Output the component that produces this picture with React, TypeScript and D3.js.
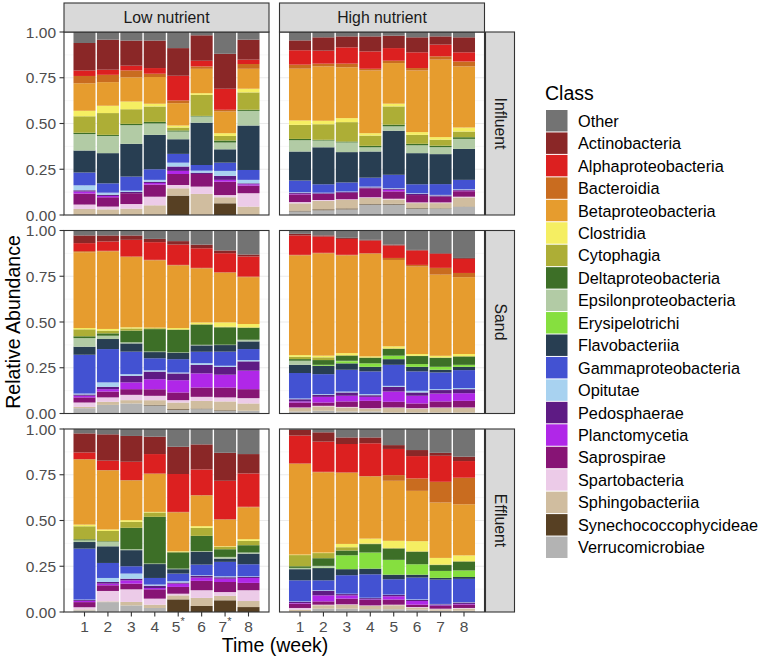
import React from "react";
import * as d3 from "d3";

const classes = [
  "Other", "Actinobacteria", "Alphaproteobacteria", "Bacteroidia", "Betaproteobacteria",
  "Clostridia", "Cytophagia", "Deltaproteobacteria", "Epsilonproteobacteria", "Erysipelotrichi",
  "Flavobacteriia", "Gammaproteobacteria", "Opitutae", "Pedosphaerae", "Planctomycetia",
  "Saprospirae", "Spartobacteria", "Sphingobacteriia", "Synechococcophycideae", "Verrucomicrobiae",
];
const classColors = [
  "#737373", "#8a2727", "#dc2020", "#c96c1f", "#e69c2e",
  "#f5ee62", "#adae36", "#3d6f27", "#b2cba5", "#86df3f",
  "#283e52", "#4352d2", "#a8d2f0", "#5e1b84", "#b027e8",
  "#871475", "#eccbe8", "#d0bd9f", "#574023", "#b3b3b3",
];

const nutrients = ["Low nutrient", "High nutrient"];
const sites = ["Influent", "Sand", "Effluent"];
const weeks = ["1", "2", "3", "4", "5", "6", "7", "8"];
const weekLabelsLow = ["1", "2", "3", "4", "5*", "6", "7*", "8"];
const weekLabelsHigh = ["1", "2", "3", "4", "5", "6", "7", "8"];
const yTicks = [0, 0.25, 0.5, 0.75, 1];
const yTickLabels = ["0.00", "0.25", "0.50", "0.75", "1.00"];

// Panel order: Influent-Low, Influent-High, Sand-Low, Sand-High, Effluent-Low, Effluent-High
// values in percent, weeks 1..8
const other = [
  [6, 4.2, 4.7, 4.7, 8.8, 1.8, 11.9, 4.2],
  [4.6, 2.9, 2.4, 2.4, 2, 2.9, 2.4, 2.9],
  [2.7, 2.7, 2.7, 4.6, 5.8, 7.7, 10.9, 13.1],
  [1.8, 2.7, 4, 5.1, 7.7, 10.6, 12.4, 15],
  [2.4, 2.9, 3.8, 4.2, 9.7, 8.4, 13, 13.7],
  [0.5, 1.8, 4.6, 4.6, 8.8, 11.5, 13, 15.1],
];
const actinobacteria = [
  [15, 16.4, 13.7, 15, 15.1, 13.9, 19.1, 10.9],
  [5.4, 7.3, 6, 8.2, 6.8, 8.2, 4.5, 8.2],
  [4.2, 3.3, 2.4, 1.8, 1.9, 2, 1.5, 1.1],
  [0.9, 0.6, 0.6, 0.4, 0.5, 0.3, 0.4, 0.5],
  [10.4, 14.4, 14.1, 9.5, 14.9, 13.7, 15.3, 10.6],
  [3.1, 5.1, 3.6, 3.2, 2.1, 3.3, 1.6, 2.4],
];
const alphaproteobacteria = [
  [3, 2.8, 2.6, 3.1, 13.5, 3.1, 11.5, 2.4],
  [7.9, 7.1, 8.9, 9.5, 6.9, 8.6, 6.4, 5],
  [4.4, 5.1, 9.1, 9.7, 11.1, 10.7, 10.4, 11],
  [10.6, 8.9, 8.7, 6.9, 6.8, 7.9, 7.6, 7.7],
  [3.6, 5.1, 10, 10.6, 20.7, 14, 21, 18.2],
  [15.2, 16.5, 15.5, 17.9, 14.3, 12.2, 14.2, 9.1],
];
const bacteroidia = [
  [4, 4, 3.8, 1.8, 1.5, 1.3, 0.9, 2.6],
  [2.2, 1.5, 2, 0.9, 1.3, 1.3, 1.8, 2.7],
  [0.6, 0.3, 0.3, 0.3, 0.3, 0.3, 0.3, 0.3],
  [0.3, 0.3, 0.3, 0.3, 1.1, 0.9, 3.7, 2.3],
  [0.3, 0.3, 0.3, 0.3, 0.3, 0.3, 0.3, 0.3],
  [0.3, 0.3, 0.3, 0.3, 3.1, 6.8, 11.3, 14.5],
];
const betaproteobacteria = [
  [15, 12.9, 13.2, 14.6, 12.2, 13.3, 11.9, 10.9],
  [28.4, 29.7, 27.8, 34.3, 22.2, 33.7, 42.4, 33.4],
  [41.4, 42.4, 38.4, 36.9, 34.2, 29.5, 27.1, 25.6],
  [54.4, 55.9, 53.4, 56.1, 47.2, 47.8, 44.3, 42],
  [35.5, 32.2, 21.6, 20.7, 21.2, 16.7, 14.5, 17.4],
  [49.5, 43.8, 38.8, 33.9, 32.8, 27.5, 30.2, 27.9],
];
const clostridia = [
  [3, 4, 4.2, 1.5, 1.1, 0.9, 1.5, 2],
  [2.4, 1.9, 2.2, 1.3, 1.5, 1.5, 1.4, 2.2],
  [0.7, 0.9, 0.6, 0.3, 0.7, 0.9, 2.4, 1.8],
  [0.9, 0.9, 1.1, 0.5, 1.1, 0.9, 0.9, 1.1],
  [0.9, 0.8, 0.9, 0.3, 0.3, 0.9, 0.3, 0.9],
  [0.3, 0.3, 1.8, 2.7, 3.9, 5.5, 3.6, 3.1],
];
const cytophagia = [
  [9, 11.9, 8, 8.4, 1.6, 11.5, 2.5, 9.5],
  [7.7, 8.5, 10.6, 5.6, 10, 4.9, 3.3, 3.1],
  [3.8, 1.5, 1.2, 0.5, 0.3, 0.3, 0.3, 0.3],
  [1.3, 1.5, 0.3, 0.3, 0.3, 0.2, 0.2, 0.3],
  [7.1, 5.6, 3.3, 2.4, 0.3, 4.4, 1.3, 2.4],
  [6.1, 2.8, 1.8, 0.3, 0.3, 0.3, 0.3, 0.3],
];
const deltaproteobacteria = [
  [0.7, 0.6, 0.7, 0.9, 0.6, 0.3, 1.1, 0.6],
  [0.7, 0.4, 0.5, 0.8, 0.9, 0.8, 0.8, 0.9],
  [1, 1.3, 6.4, 12.3, 12.3, 11, 9.5, 6.5],
  [0.9, 2.6, 2.8, 3, 3.7, 4.4, 4.9, 4.5],
  [0.6, 0.3, 11.7, 25.5, 8.9, 8.4, 4.2, 4],
  [0.9, 4.2, 2.6, 4.6, 6.2, 6.8, 3.2, 4.8],
];
const epsilonproteobacteria = [
  [9, 9.4, 10.2, 6.2, 4.2, 3.4, 3.7, 8],
  [6.2, 3.7, 5.3, 2.3, 2.4, 4.3, 3.8, 5.5],
  [4.7, 1.8, 0.6, 0.3, 0.2, 0.3, 0.2, 0.9],
  [2.2, 0, 0.2, 0, 0, 0, 0, 0],
  [0.9, 2.5, 0.5, 0.3, 0.3, 0.3, 0.9, 0.6],
  [0.7, 0.9, 0, 0, 0, 0, 0, 0],
];
const erysipelotrichi = [
  [0, 0, 0, 0, 0, 0, 0, 0],
  [0, 0, 0, 0, 0, 0, 0, 0],
  [0, 0, 0, 0, 0, 0, 0, 0],
  [0, 0.5, 1.2, 1.9, 1.9, 1.5, 1.6, 1.1],
  [0, 0, 0, 0, 0, 0, 0, 0],
  [0, 0.3, 7.6, 8.8, 8.1, 5.7, 3.8, 3.6],
];
const flavobacteriia = [
  [12, 16.5, 17.9, 18.8, 8, 23.1, 7.3, 24.3],
  [15.9, 20.2, 16.6, 14.3, 24.1, 17, 16.4, 16.9],
  [4.4, 5.5, 4.5, 3.4, 3.5, 3.5, 3.6, 4.2],
  [4.5, 4.6, 3.5, 2.5, 3.1, 2.5, 1.5, 1.8],
  [3.6, 9.1, 8.8, 7.6, 2.4, 7, 1.8, 5.8],
  [6.1, 6.7, 3.3, 3.1, 2.5, 1.6, 0.9, 1],
];
const gammaproteobacteria = [
  [7, 5.1, 7.7, 5.8, 4.8, 3.1, 4.5, 5.4],
  [6.4, 4.6, 4.9, 4.9, 7.3, 4.9, 5.9, 5.1],
  [21.2, 18.2, 12.3, 6.6, 7.3, 6.2, 7.7, 6],
  [13.9, 10.9, 11.9, 12.4, 11.5, 10.6, 9.1, 9.8],
  [27.8, 8.2, 4, 3.6, 4.2, 5.8, 7.9, 6.6],
  [11.5, 5.4, 10.1, 12.8, 8.4, 11.9, 13.3, 12.7],
];
const opitutae = [
  [2.7, 1.1, 0.7, 1, 2.1, 1.1, 2.7, 1.9],
  [0.3, 0.3, 0.2, 0.4, 0.3, 0.3, 0.3, 0.3],
  [0.5, 2.4, 0.9, 0.7, 0.5, 0.9, 0.6, 0.7],
  [0.4, 0.4, 0.5, 0.6, 0.5, 0.9, 0.5, 0.6],
  [0.2, 2.2, 2.8, 0.6, 0.7, 0.3, 0.5, 0.3],
  [0.2, 0.3, 0.2, 0.2, 0.2, 0.3, 0.2, 0.2],
];
const pedosphaerae = [
  [0.7, 0.7, 0.7, 0.7, 2.4, 0.7, 2.2, 0.5],
  [0.6, 0.4, 0.5, 0.5, 0.6, 0.7, 0.6, 0.5],
  [0.7, 1.3, 3.6, 4.2, 3.7, 4.7, 4.3, 5.1],
  [1.2, 1.1, 1.8, 0.9, 2.6, 1.8, 1.9, 2.2],
  [0.5, 0.9, 0.9, 1.3, 0.6, 1, 0.8, 0.6],
  [0.7, 2.5, 0.7, 0.7, 0.7, 0.6, 0.6, 0.8],
];
const planctomycetia = [
  [1.1, 0.7, 0, 0.9, 1.7, 0, 1, 0.7],
  [0.3, 0, 0, 0, 0.9, 0, 0, 0.3],
  [0.9, 1.3, 3.7, 5.5, 6.7, 7.7, 7, 10.1],
  [0.6, 3.1, 3.1, 2.2, 5.6, 4.2, 4.3, 4.2],
  [0.7, 0.9, 1.8, 0.7, 1.8, 1.8, 1.8, 2.7],
  [0.3, 3.3, 1.8, 0.3, 1.8, 2, 0.3, 0.3],
];
const saprospirae = [
  [6, 5.1, 5.9, 6.6, 6, 6.9, 7.3, 4.2],
  [4.2, 3.3, 3.6, 4.9, 4, 4, 3.2, 3],
  [2.8, 3.2, 3.1, 3.6, 4.2, 5.1, 5.4, 4.9],
  [2.7, 1.8, 3, 4, 3.1, 2.6, 3.3, 3.6],
  [2.8, 3.1, 3.1, 5.1, 3.7, 5.1, 5.5, 4],
  [2.4, 1.8, 3.1, 3, 2.8, 1.3, 1.5, 1.9],
];
const spartobacteria = [
  [2.4, 1.5, 2.5, 4.7, 1.8, 4, 1.2, 7.3],
  [0.7, 0.5, 0.4, 0.4, 0.4, 0.4, 0.4, 0.4],
  [2.4, 2.4, 2.9, 2.4, 1.3, 2.2, 2.2, 2.9],
  [0.3, 0.3, 0.3, 0.3, 0.3, 0.3, 0.3, 0.3],
  [1.2, 5.7, 6.9, 3.3, 0.9, 4.2, 2.1, 5.9],
  [0.9, 0.3, 0.3, 0.3, 0.3, 0.3, 0.3, 0.3],
];
const sphingobacteriia = [
  [3.3, 3.1, 3.5, 5.3, 4, 11.5, 3.3, 4.6],
  [4, 4.6, 4.6, 3.3, 2.4, 2.7, 2.8, 5],
  [0.7, 1.7, 1.8, 2.6, 3.6, 4.2, 4.8, 4],
  [1.9, 2.4, 2.2, 1.5, 2.5, 2.1, 2.5, 2.5],
  [0.5, 0.4, 1.9, 1.8, 2.2, 4.4, 2.4, 3.3],
  [0.9, 1.9, 2.1, 1.8, 2.2, 1.1, 0.8, 1.2],
];
const synechococcophycideae = [
  [0, 0, 0, 0, 10.6, 0, 6.4, 0],
  [0.4, 0.5, 0.5, 0.3, 0.4, 0.3, 0.2, 0.2],
  [0, 0, 0, 0.3, 0.4, 0.3, 0.3, 0],
  [0, 0, 0, 0, 0, 0, 0, 0],
  [0, 0, 0, 0, 6.9, 3.3, 6.4, 2.7],
  [0, 0, 0, 0, 0, 0, 0, 0],
];
const verrucomicrobiae = [
  [0, 0, 0, 0, 0, 0, 0, 0],
  [2, 2.6, 3.1, 5.7, 5.7, 3.5, 3.5, 4.4],
  [2.9, 4.7, 5.5, 4.4, 2, 2.4, 1.5, 1.5],
  [1.1, 1.5, 1.1, 1.1, 0.5, 0.5, 0.5, 0.5],
  [0.9, 5.4, 3.6, 2.2, 0, 0, 0, 0],
  [0.4, 1.8, 1.8, 1.5, 1.5, 1.3, 0.7, 0.7],
];

const classValues = [
  other, actinobacteria, alphaproteobacteria, bacteroidia, betaproteobacteria,
  clostridia, cytophagia, deltaproteobacteria, epsilonproteobacteria, erysipelotrichi,
  flavobacteriia, gammaproteobacteria, opitutae, pedosphaerae, planctomycetia,
  saprospirae, spartobacteria, sphingobacteriia, synechococcophycideae, verrucomicrobiae,
];

const FONT = "'Liberation Sans', Arial, Helvetica, sans-serif";
const colX = [64, 279.5];
const rowY = [32, 230.5, 429];
const panelW = 205;
const panelH = 183;

const colorScale = d3.scaleOrdinal<string, string>().domain(classes).range(classColors);
const xScale = d3.scaleBand<string>().domain(weeks).range([0, panelW]).paddingInner(0.06).paddingOuter(0.405);
const yScale = d3.scaleLinear().domain([0, 1]).range([panelH, 0]);

// Stack bottom-to-top: last class at the bottom
const stackKeys = classes.slice().reverse();
const stacker = d3.stack<any>().keys(stackKeys).offset(d3.stackOffsetExpand);

function panelSeries(p: number) {
  const rows = weeks.map((w, i) => {
    const r: any = { week: w };
    classes.forEach((c, ci) => { r[c] = classValues[ci][p][i]; });
    return r;
  });
  return stacker(rows);
}

function TickLabel({ label, x, y }: { label: string; x: number; y: number }) {
  const star = label.endsWith("*");
  const base = star ? label.slice(0, -1) : label;
  return (
    <text x={x} y={y} textAnchor="middle" dominantBaseline="central" fontSize={15.5} fill="#4D4D4D" fontFamily={FONT}>
      {base}
      {star && <tspan dy={-5} fontSize={11}>*</tspan>}
    </text>
  );
}

function Panel({ p, row, col }: { p: number; row: number; col: number }) {
  const series = panelSeries(p);
  const x0 = colX[col];
  const y0 = rowY[row];
  const minor = [0.125, 0.375, 0.625, 0.875];
  const labels = col === 0 ? weekLabelsLow : weekLabelsHigh;
  return (
    <g transform={`translate(${x0},${y0})`}>
      <rect x={0} y={0} width={panelW} height={panelH} fill="white" />
      {minor.map((t) => (
        <line key={"mn" + t} x1={0} x2={panelW} y1={yScale(t)} y2={yScale(t)} stroke="#F2F2F2" strokeWidth={0.6} />
      ))}
      {yTicks.map((t) => (
        <line key={"mj" + t} x1={0} x2={panelW} y1={yScale(t)} y2={yScale(t)} stroke="#EBEBEB" strokeWidth={1.1} />
      ))}
      {weeks.map((w) => (
        <line key={"vx" + w} x1={xScale(w)! + xScale.bandwidth() / 2} x2={xScale(w)! + xScale.bandwidth() / 2} y1={0} y2={panelH} stroke="#EBEBEB" strokeWidth={1.1} />
      ))}
      {series.map((s) => (
        <g key={s.key} fill={colorScale(s.key)}>
          {s.map((d, i) => {
            const h = yScale(d[0]) - yScale(d[1]);
            if (h <= 0) return null;
            return <rect key={i} x={xScale(weeks[i])} y={yScale(d[1])} width={xScale.bandwidth()} height={h} />;
          })}
        </g>
      ))}
      <rect x={0} y={0} width={panelW} height={panelH} fill="none" stroke="#333333" strokeWidth={1.1} />
      {col === 0 && yTicks.map((t, i) => (
        <g key={"yt" + t}>
          <line x1={-4.5} x2={0} y1={yScale(t)} y2={yScale(t)} stroke="#333333" strokeWidth={1.1} />
          <text x={-8} y={yScale(t)} textAnchor="end" dominantBaseline="central" fontSize={15.5} fill="#4D4D4D" fontFamily={FONT}>
            {yTickLabels[i]}
          </text>
        </g>
      ))}
      {row === 2 && weeks.map((w, i) => {
        const cx = xScale(w)! + xScale.bandwidth() / 2;
        return (
          <g key={"xt" + w}>
            <line x1={cx} x2={cx} y1={panelH} y2={panelH + 4.5} stroke="#333333" strokeWidth={1.1} />
            <TickLabel label={labels[i]} x={cx} y={panelH + 14} />
          </g>
        );
      })}
    </g>
  );
}

export default function App() {
  const legendX = 546;
  const legendY0 = 110;
  const keyStep = 22.45;
  return (
    <svg width={760} height={660} style={{ position: "absolute", left: 0, top: 0, background: "white" }} fontFamily={FONT}>
      <rect x={0} y={0} width={760} height={660} fill="white" />
      {sites.map((s, row) =>
        nutrients.map((n, col) => <Panel key={s + n} p={row * 2 + col} row={row} col={col} />)
      )}
      {nutrients.map((n, col) => (
        <g key={"strip" + n}>
          <rect x={colX[col]} y={3} width={panelW} height={29} fill="#D9D9D9" stroke="#333333" strokeWidth={1.1} />
          <text x={colX[col] + panelW / 2} y={17.5} textAnchor="middle" dominantBaseline="central" fontSize={15.8} fill="#1A1A1A">
            {n}
          </text>
        </g>
      ))}
      {sites.map((s, row) => (
        <g key={"rstrip" + s}>
          <rect x={485.5} y={rowY[row]} width={29} height={panelH} fill="#D9D9D9" stroke="#333333" strokeWidth={1.1} />
          <text
            transform={`translate(${500},${rowY[row] + panelH / 2}) rotate(90)`}
            textAnchor="middle"
            dominantBaseline="central"
            fontSize={15.8}
            fill="#1A1A1A"
          >
            {s}
          </text>
        </g>
      ))}
      <text transform={`translate(13,322) rotate(-90)`} textAnchor="middle" dominantBaseline="central" fontSize={19.5} fill="black">
        Relative Abundance
      </text>
      <text x={275} y={652} textAnchor="middle" fontSize={19.5} fill="black">
        Time (week)
      </text>
      <text x={545} y={100} fontSize={19.5} fill="black">Class</text>
      {classes.map((c, i) => (
        <g key={"lg" + c}>
          <rect x={legendX} y={legendY0 + i * keyStep} width={21.5} height={keyStep - 1} fill={colorScale(c)} />
          <text x={578} y={legendY0 + i * keyStep + (keyStep - 1) / 2} dominantBaseline="central" fontSize={16.3} fill="black">
            {c}
          </text>
        </g>
      ))}
    </svg>
  );
}
